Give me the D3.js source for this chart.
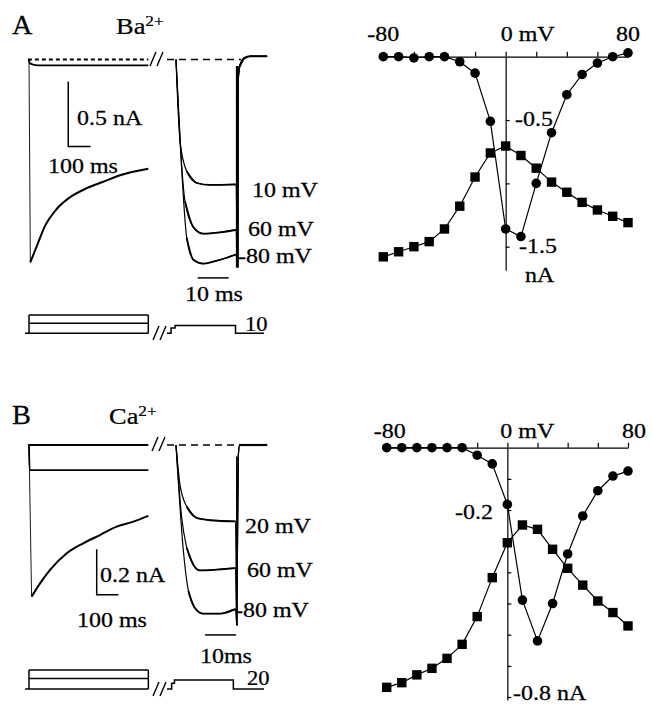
<!DOCTYPE html>
<html>
<head>
<meta charset="utf-8">
<script src="https://cdn.jsdelivr.net/npm/d3@7"></script>
<style>
body { margin: 0; background: #fff; }
text { font-family: "Liberation Serif", "Times New Roman", serif; fill: #000; stroke: #000; stroke-width: 0.25; }
</style>
</head>
<body>
<div id="chart-area"></div>
<script>
// I-V data, test potential in mV
const voltages = [-80, -70, -60, -50, -40, -30, -20, -10, 0, 10, 20, 30, 40, 50, 60, 70, 80];
const baCircles = [0, 0, -0.01, 0, 0, -0.04, -0.13, -0.51, -1.36, -1.42, -1.0, -0.6, -0.3, -0.14, -0.05, 0, 0.03];
const baSquares = [-1.58, -1.54, -1.50, -1.46, -1.36, -1.18, -0.95, -0.76, -0.705, -0.78, -0.88, -0.99, -1.07, -1.15, -1.21, -1.26, -1.31];
const caCircles = [0, 0, 0, 0, 0, 0, -0.024, -0.052, -0.182, -0.489, -0.62, -0.50, -0.341, -0.219, -0.138, -0.091, -0.075];
const caSquares = [-0.769, -0.754, -0.729, -0.708, -0.676, -0.631, -0.542, -0.417, -0.305, -0.248, -0.262, -0.326, -0.387, -0.441, -0.492, -0.529, -0.572];
const xTickValues = [-80, -60, -40, -20, 0, 20, 40, 60, 80];

// current traces [ms, nA]
const baSlowBig = [[6, -1.56], [34, -1.44], [72, -1.28], [124, -1.15], [184, -1.06], [259, -0.99], [333, -0.94], [408, -0.89], [535, -0.84]];
const baSlowSmall = [[0, 0], [4, -0.03], [40, -0.045], [535, -0.045]];
const baFast = {
  '10 mV': [[0, 0], [1.3, -0.63], [3.45, -0.86], [6.7, -0.95], [11, -0.965], [19.4, -0.96]],
  '60 mV': [[0, 0], [1.5, -0.70], [2.9, -1.09], [5.6, -1.29], [8.8, -1.34], [14.2, -1.33], [19.4, -1.31]],
  '-80 mV': [[0, 0], [1.8, -0.83], [3.45, -1.37], [5.6, -1.54], [8.8, -1.57], [12, -1.555], [16.4, -1.525], [19.4, -1.5]]
};
const baTail = [[19.8, -1.6], [19.95, -0.5], [20.1, -0.15], [20.6, -0.05], [22, 0.01], [24, 0.025], [29.4, 0.025]];

const caSlowBig = [[12, -0.665], [51, -0.607], [97, -0.548], [174, -0.475], [250, -0.431], [327, -0.395], [404, -0.358], [481, -0.336], [550, -0.311]];
const caSlowSmall = [[0, 0], [3, -0.11], [550, -0.11]];
const caFast = {
  '20 mV': [[0, 0], [1.3, -0.175], [3.45, -0.27], [6.7, -0.32], [11, -0.33], [19.2, -0.335]],
  '60 mV': [[0, 0], [1.85, -0.32], [3.45, -0.45], [5.6, -0.525], [7.7, -0.55], [19.2, -0.54]],
  '-80 mV': [[0, 0], [2.4, -0.467], [4, -0.64], [6.1, -0.715], [8.8, -0.74], [14.2, -0.74], [19.2, -0.72]]
};
const caTail = [[19.6, -0.79], [19.9, -0.3], [20.1, -0.05], [20.5, 0], [29.4, 0]];

// voltage protocol, relative step height
const protoLevels = [0, 0.55, 1];
const protoFastA = [[-2.9, 0], [-1.6, 0], [-1.6, 0.29], [-0.3, 0.29], [-0.3, 0.43], [19.2, 0.43], [19.2, 0], [28.4, 0]];
const protoFastB = [[-2.9, 0], [-1.4, 0], [-1.4, 0.3], [-0.5, 0.3], [-0.5, 0.47], [18.5, 0.47], [18.5, 0], [28.4, 0]];

const svg = d3.select('#chart-area').append('svg')
  .attr('width', 652)
  .attr('height', 706)
  .style('display', 'block')

svg.append('rect').attr('width', 652).attr('height', 706).attr('fill', '#fff')

const lineMono = d3.line().curve(d3.curveMonotoneX)
const lineStraight = d3.line()

function label(x, y, str, opts = {}) {
  const t = svg.append('text')
    .attr('transform', `translate(${x},${y}) scale(${opts.sx || 1.17},1)`)
    .attr('font-size', opts.size || 20.5)
    .attr('text-anchor', opts.anchor || 'start')
  t.append('tspan').text(str)
  if (opts.sup) {
    t.append('tspan').attr('font-size', 15).attr('dy', -8).text(opts.sup)
  }
  return t
}

function slashes(x, y) {
  [0, 7].forEach(d => {
    svg.append('line')
      .attr('x1', x + d).attr('y1', y + 7)
      .attr('x2', x + d + 6).attr('y2', y - 7)
      .attr('stroke', '#000').attr('stroke-width', 1.4)
  })
}

function tracePanel(cfg) {
  const { xs, xf, y } = cfg
  const g = svg.append('g').attr('fill', 'none').attr('stroke', '#000')

  // baselines
  g.append('line')
    .attr('x1', xs(-5)).attr('x2', xs(cfg.slowEnd))
    .attr('y1', y(0)).attr('y2', y(0))
    .attr('stroke-width', 1.8)
    .attr('stroke-dasharray', cfg.slowDash)
  g.append('line')
    .attr('x1', xf(-2.9)).attr('x2', xf(21))
    .attr('y1', y(0)).attr('y2', y(0))
    .attr('stroke-width', 1.4)
    .attr('stroke-dasharray', '7,5')

  // slow traces
  g.append('path').attr('d', lineMono(cfg.slowSmall.map(d => [xs(d[0]), y(d[1])]))).attr('stroke-width', 1.8)
  g.append('path').attr('d', lineStraight([[xs(0), y(0)], [xs(cfg.slowBig[0][0]), y(cfg.slowBig[0][1])]])).attr('stroke-width', 0.9)
  g.append('path').attr('d', lineMono(cfg.slowBig.map(d => [xs(d[0]), y(d[1])]))).attr('stroke-width', 2)

  // fast traces with tail
  Object.keys(cfg.fast).forEach(k => {
    const pts = cfg.fast[k].concat(cfg.tail)
    g.append('path').attr('d', lineMono(pts.map(d => [xf(d[0]), y(d[1])]))).attr('stroke-width', 1.2)
    g.append('path').attr('d', lineMono(cfg.fast[k].slice(2).map(d => [xf(d[0]), y(d[1])]))).attr('stroke-width', 1.8)
  })
  g.append('line')
    .attr('x1', xf(cfg.tail[0][0])).attr('x2', xf(cfg.tail[0][0]))
    .attr('y1', y(cfg.tail[0][1])).attr('y2', y(-0.05))
    .attr('stroke-width', cfg.tailWidth)
  g.append('path').attr('d', lineMono(cfg.tail.slice(3).map(d => [xf(d[0]), y(d[1])]))).attr('stroke-width', 2.2)

  // scale bars
  const sb = cfg.slowBar
  g.append('path').attr('d', lineStraight([
    [xs(sb.t), y(sb.i0)], [xs(sb.t), y(sb.i0 - sb.di)], [xs(sb.t + 100), y(sb.i0 - sb.di)]
  ])).attr('stroke-width', 1.5)
  const fb = cfg.fastBar
  g.append('line')
    .attr('x1', xf(fb.t)).attr('x2', xf(fb.t + 10))
    .attr('y1', y(fb.i)).attr('y2', y(fb.i))
    .attr('stroke-width', 1.5)

  // voltage protocol
  const pv = cfg.pv
  protoLevels.forEach(l => {
    g.append('line')
      .attr('x1', xs(l === 0 ? -18 : 0)).attr('x2', xs(cfg.slowEnd))
      .attr('y1', pv(l)).attr('y2', pv(l))
      .attr('stroke-width', 1.5)
  })
  ;[0, cfg.slowEnd].forEach(t => {
    g.append('line')
      .attr('x1', xs(t)).attr('x2', xs(t))
      .attr('y1', pv(0)).attr('y2', pv(1))
      .attr('stroke-width', 1.5)
  })
  g.append('path').attr('d', lineStraight(cfg.protoFast.map(d => [xf(d[0]), pv(d[1])]))).attr('stroke-width', 1.5)
}

// panel A
const yA = d3.scaleLinear().domain([0, -1]).range([59.5, 189.5])
const xAslow = d3.scaleLinear().domain([0, 100]).range([29, 51.3])
const xAfast = d3.scaleLinear().domain([0, 10]).range([176, 207])
tracePanel({
  xs: xAslow, xf: xAfast, y: yA, slowEnd: 535, slowDash: '4,3',
  slowSmall: baSlowSmall, slowBig: baSlowBig, fast: baFast, tail: baTail, tailWidth: 3,
  slowBar: { t: 176, i0: -0.17, di: 0.5 }, fastBar: { t: 7, i: -1.68 },
  pv: d3.scaleLinear().domain([0, 1]).range([333.3, 315]), protoFast: protoFastA
})

// panel B
const yB = d3.scaleLinear().domain([0, -0.2]).range([445, 490.6])
const xBslow = d3.scaleLinear().domain([0, 100]).range([29, 50.7])
const xBfast = d3.scaleLinear().domain([0, 10]).range([176, 207])
tracePanel({
  xs: xBslow, xf: xBfast, y: yB, slowEnd: 550, slowDash: null,
  slowSmall: caSlowSmall, slowBig: caSlowBig, fast: caFast, tail: caTail, tailWidth: 1.5,
  slowBar: { t: 312, i0: -0.457, di: 0.2 }, fastBar: { t: 9.4, i: -0.833 },
  pv: d3.scaleLinear().domain([0, 1]).range([689, 670]), protoFast: protoFastB
})

slashes(150, 59)
slashes(153, 333)
slashes(152, 444)
slashes(153, 689)

// I-V plots
function ivPlot(x, y, yEnd, yTicks, circles, squares) {
  const g = svg.append('g')
  const yAxisScale = y.copy().domain([0, yEnd]).range([y(0), y(yEnd)])

  g.append('g')
    .attr('transform', `translate(0,${y(0)})`)
    .call(d3.axisTop(x).tickValues(xTickValues).tickSize(5).tickSizeOuter(0).tickFormat(''))
  g.append('g')
    .attr('transform', `translate(${x(0)},0)`)
    .call(d3.axisRight(yAxisScale).tickValues(yTicks).tickSize(4).tickSizeOuter(0).tickFormat(''))
  g.selectAll('.domain, .tick line').attr('stroke', '#000').attr('stroke-width', 1.2)

  const line = d3.line().x((d, i) => x(voltages[i])).y(d => y(d))
  g.append('path').attr('d', line(circles)).attr('fill', 'none').attr('stroke', '#000').attr('stroke-width', 1.2)
  g.append('path').attr('d', line(squares)).attr('fill', 'none').attr('stroke', '#000').attr('stroke-width', 1.2)

  g.selectAll('.sq').data(squares).enter().append('rect')
    .attr('x', (d, i) => x(voltages[i]) - 4.7)
    .attr('y', d => y(d) - 4.7)
    .attr('width', 9.4).attr('height', 9.4)
    .attr('fill', '#000')
  g.selectAll('.ci').data(circles).enter().append('circle')
    .attr('cx', (d, i) => x(voltages[i]))
    .attr('cy', d => y(d))
    .attr('r', 4.8)
    .attr('fill', '#000')
}

const xIVA = d3.scaleLinear().domain([-80, 80]).range([383.3, 628])
const yIVA = d3.scaleLinear().domain([0, -1.5]).range([56.7, 246.7])
ivPlot(xIVA, yIVA, -1.685, [-0.5, -1, -1.5], baCircles, baSquares)

const xIVB = d3.scaleLinear().domain([-80, 80]).range([386.7, 628])
const yIVB = d3.scaleLinear().domain([0, -0.8]).range([447.7, 697])
ivPlot(xIVB, yIVB, -0.81, [-0.1, -0.2, -0.3, -0.4, -0.5, -0.6, -0.7, -0.8], caCircles, caSquares)

// labels panel A
label(12, 34, 'A', { size: 27, sx: 1.05 })
label(116, 34, 'Ba', { size: 23, sx: 1.15, sup: '2+' })
label(77, 125, '0.5 nA')
label(48, 173, '100 ms')
label(252, 197, '10 mV')
label(248, 236, '60 mV')
label(238, 263, '-80 mV')
label(185, 301, '10 ms')
label(245, 331, '10', { sx: 1.1 })

label(xIVA(-80), 41, '-80', { anchor: 'middle' })
label(xIVA(0) - 5, 41, '0 mV')
label(xIVA(80), 41, '80', { anchor: 'middle' })
label(515, 126, '-0.5')
label(519, 253, '-1.5')
label(525, 282, 'nA')

// labels panel B
label(12, 424, 'B', { size: 27, sx: 1.05 })
label(109, 424, 'Ca', { size: 23, sx: 1.15, sup: '2+' })
label(100, 582, '0.2 nA')
label(77, 627, '100 ms')
label(245, 533, '20 mV')
label(247, 577, '60 mV')
label(235, 617, '-80 mV')
label(200, 663, '10ms')
label(247, 685, '20', { sx: 1.1 })

label(xIVB(-80) + 3, 438, '-80', { anchor: 'middle' })
label(xIVB(0) - 7, 438, '0 mV')
label(xIVB(80) + 6, 438, '80', { anchor: 'middle' })
label(493, 519, '-0.2', { anchor: 'end' })
label(513, 700, '-0.8 nA')
</script>
</body>
</html>
